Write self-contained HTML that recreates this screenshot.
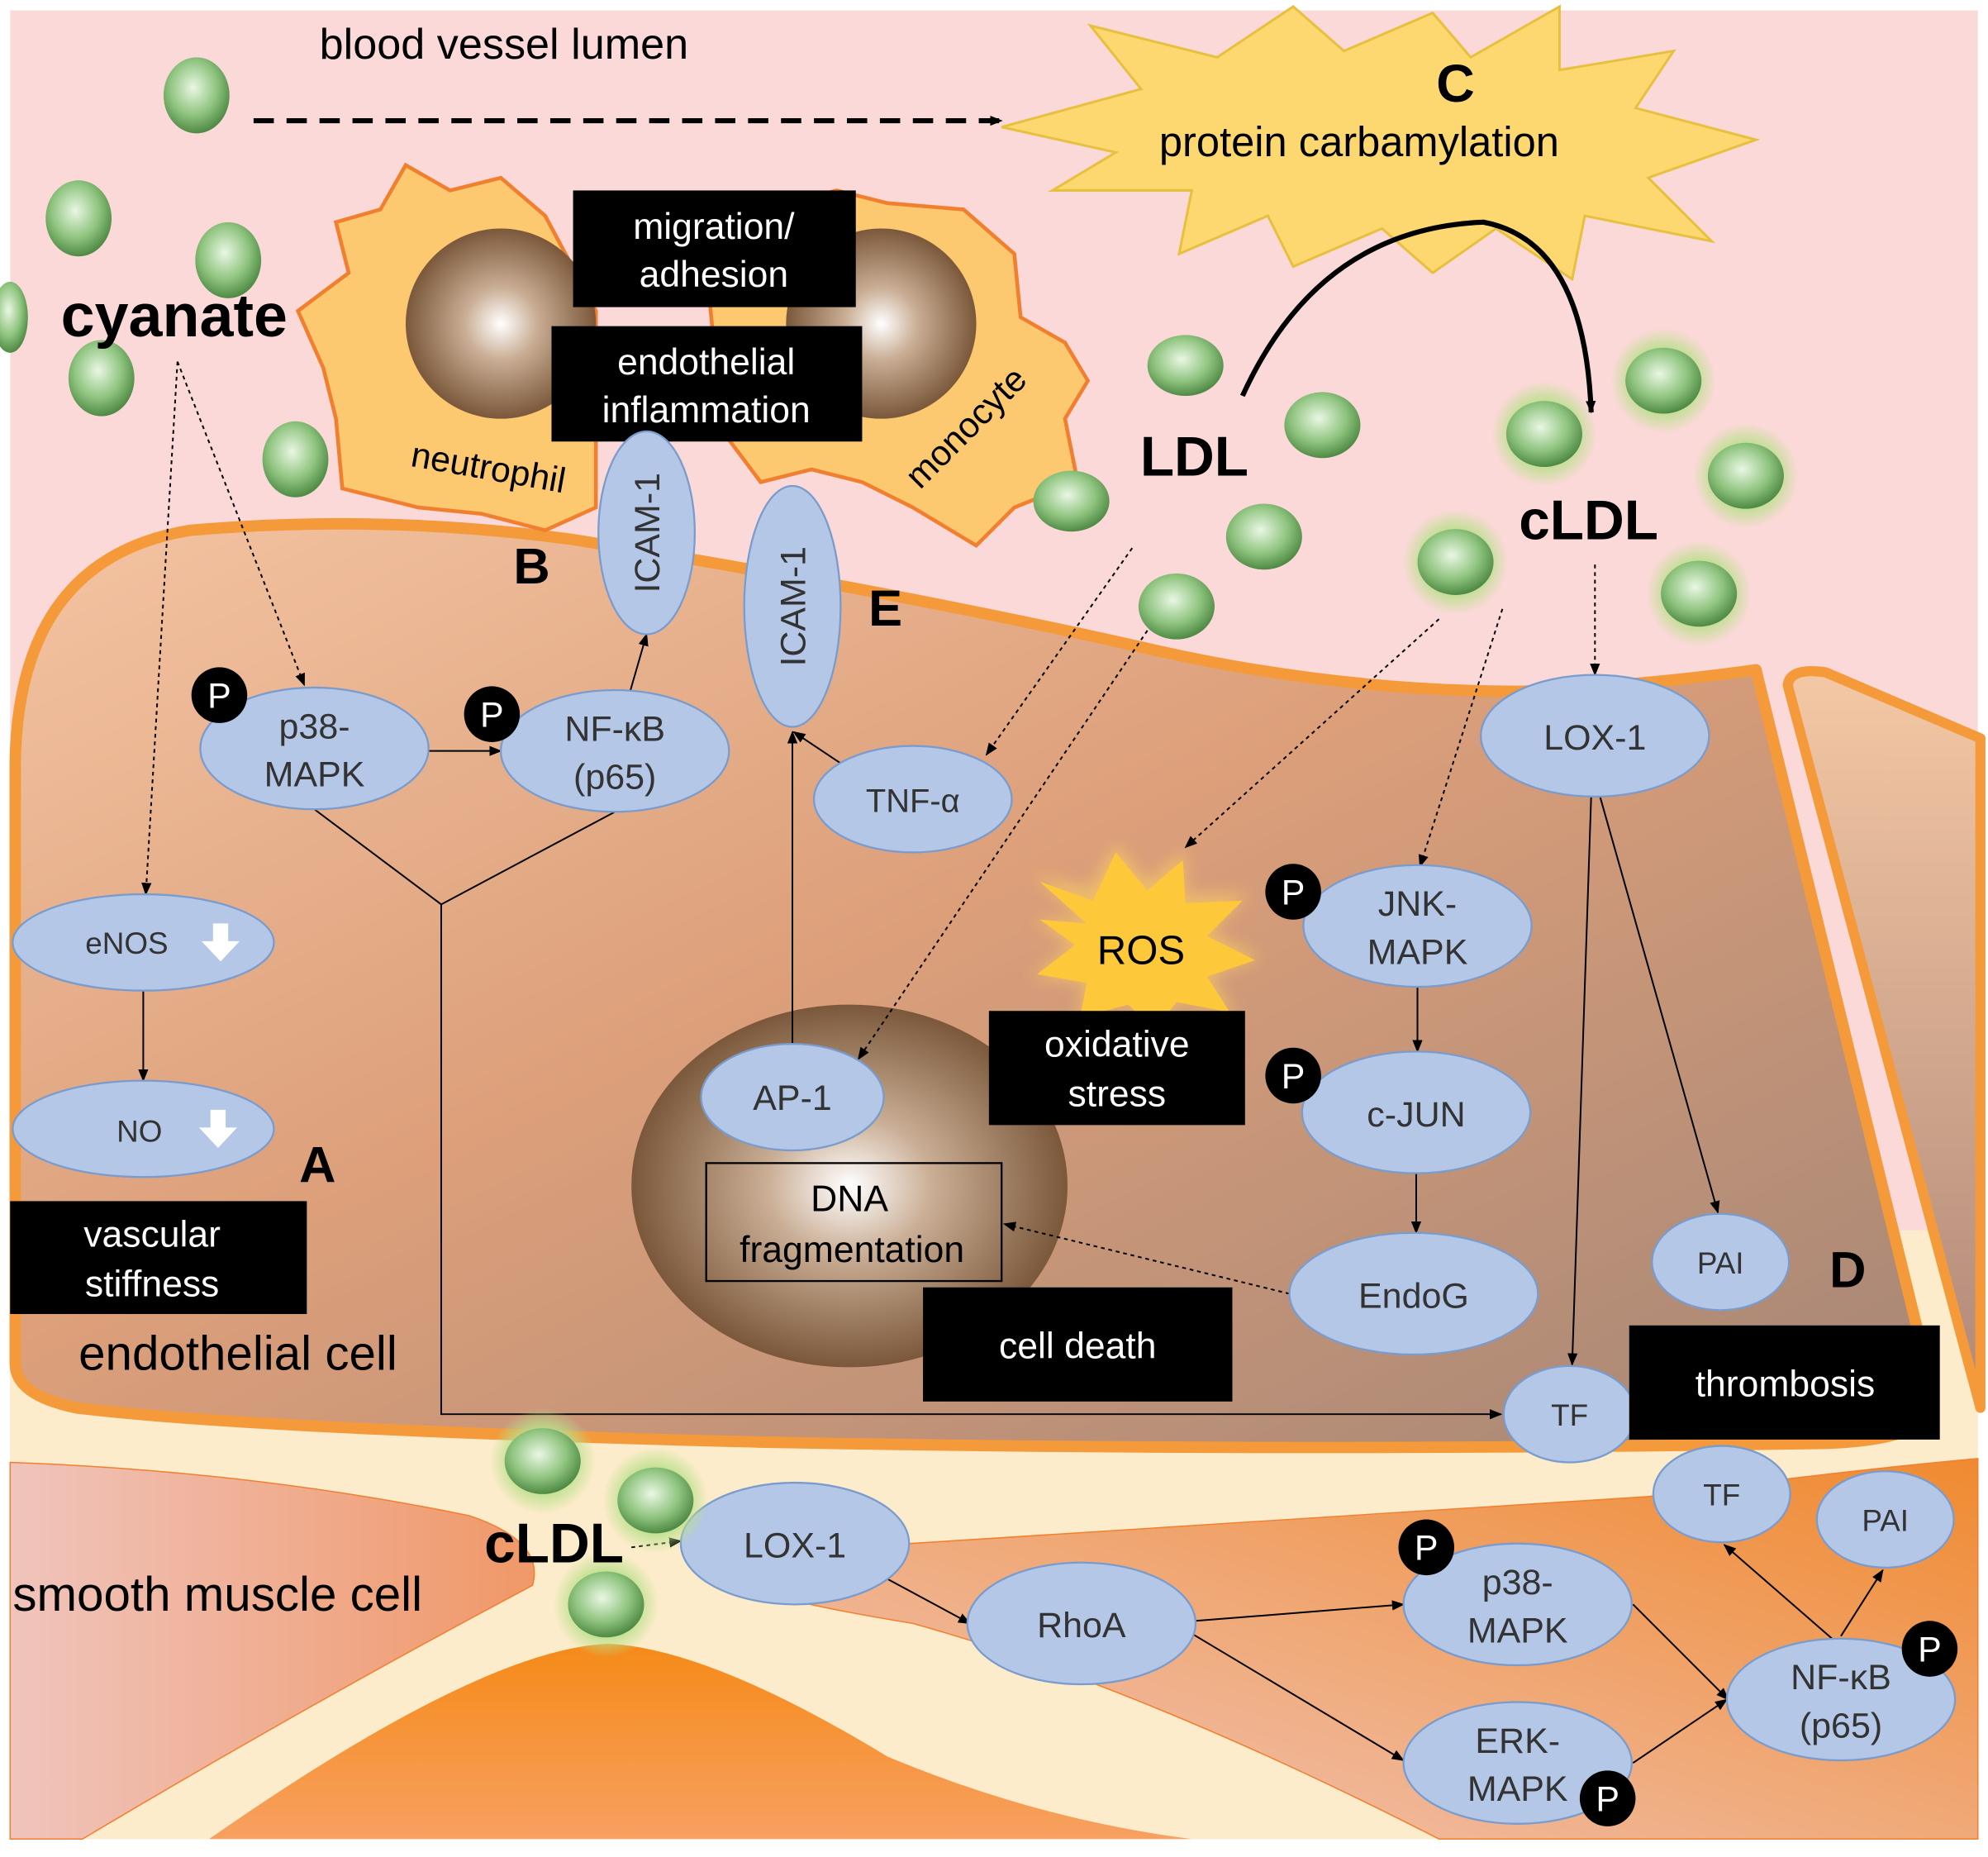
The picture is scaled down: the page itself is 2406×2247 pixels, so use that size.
<!DOCTYPE html>
<html><head><meta charset="utf-8"><style>
html,body{margin:0;padding:0;background:#fff}
svg{display:block}
text{font-family:"Liberation Sans",sans-serif}
</style></head><body>
<svg width="2406" height="2247" viewBox="0 0 1568 1464" xmlns="http://www.w3.org/2000/svg">
<defs>
<radialGradient id="sph" cx="45%" cy="40%" r="60%"><stop offset="0" stop-color="#eaf7e4"/><stop offset="0.6" stop-color="#8fc47f"/><stop offset="1" stop-color="#4f8a45"/></radialGradient>
<radialGradient id="glow" r="50%"><stop offset="0.6" stop-color="#b9e08a" stop-opacity="0.9"/><stop offset="1" stop-color="#b9e08a" stop-opacity="0"/></radialGradient>
<radialGradient id="nuc" cx="50%" cy="50%" r="55%"><stop offset="0" stop-color="#ffffff"/><stop offset="0.35" stop-color="#c9ad94"/><stop offset="1" stop-color="#6e4a2c"/></radialGradient>
<linearGradient id="cell" x1="0" y1="0" x2="1" y2="1"><stop offset="0" stop-color="#f4c4a2"/><stop offset="0.45" stop-color="#dc9f7a"/><stop offset="1" stop-color="#a48676"/></linearGradient>
<linearGradient id="rcell" x1="0" y1="0" x2="0" y2="1"><stop offset="0" stop-color="#f4c8a4"/><stop offset="1" stop-color="#b08878"/></linearGradient>
<linearGradient id="smc" x1="0" y1="0" x2="1" y2="0"><stop offset="0" stop-color="#f0c4bc"/><stop offset="1" stop-color="#f09868"/></linearGradient>
<linearGradient id="smc2" x1="0" y1="1" x2="1" y2="0"><stop offset="0" stop-color="#f0c8c0"/><stop offset="1" stop-color="#f08a30"/></linearGradient>
<linearGradient id="dome" x1="0" y1="0" x2="0" y2="1"><stop offset="0" stop-color="#f58a18"/><stop offset="1" stop-color="#f7a060"/></linearGradient>
<marker id="ar" markerWidth="10" markerHeight="10" refX="9" refY="5" orient="auto" markerUnits="userSpaceOnUse"><path d="M0,1 L10,5 L0,9 z" fill="#000"/></marker>
<filter id="blur"><feGaussianBlur stdDeviation="6"/></filter>
</defs>
<rect x="8" y="8" width="1552" height="1442" fill="#fcd9d9"/>
<path d="M8,1080 L1560,1080 L1560,1450 L8,1450 Z" fill="#fdeccb"/>
<rect x="1470" y="970" width="90" height="170" fill="#fdeccb"/>
<!-- right cell -->
<path d="M1410,540 Q1412,526 1440,530 L1562,582 L1562,1110 Z" fill="url(#rcell)" stroke="#f59a3a" stroke-width="8" stroke-linejoin="round"/>
<!-- endothelial cell -->
<path d="M12,1075 L12,600 Q15,440 150,418 Q300,405 450,425 Q700,465 900,510 Q1050,545 1200,545 Q1300,540 1385,528 L1525,1100 Q1530,1135 1440,1138 Q1000,1145 600,1137 Q200,1127 60,1110 Q12,1100 12,1075 Z" fill="url(#cell)" stroke="#f59a3a" stroke-width="9" stroke-linejoin="round"/>
<!-- smooth muscle -->
<path d="M8,1153 Q200,1160 370,1195 Q430,1215 420,1250 Q250,1340 65,1450 L8,1450 Z" fill="url(#smc)" stroke="#f08030" stroke-width="1"/>
<path d="M165,1450 Q380,1300 480,1296 Q560,1300 700,1385 Q820,1435 940,1450 Z" fill="url(#dome)"/>
<path d="M718,1217 Q1000,1200 1300,1180 Q1450,1160 1560,1150 L1560,1450 L1135,1450 Q900,1330 720,1280 Q610,1262 590,1250 Z" fill="url(#smc2)" stroke="#f08030" stroke-width="1"/>
<!-- lumen spheres -->
<g fill="url(#sph)">
<ellipse cx="155" cy="75" rx="26" ry="30"/>
<ellipse cx="62" cy="172" rx="26" ry="30"/>
<ellipse cx="180" cy="205" rx="26" ry="30"/>
<ellipse cx="80" cy="298" rx="26" ry="30"/>
<ellipse cx="233" cy="362" rx="26" ry="30"/>
<ellipse cx="8" cy="250" rx="14" ry="28"/>
</g>
<text x="252" y="46" font-size="34">blood vessel lumen</text>
<line x1="200" y1="95" x2="790" y2="95" stroke="#000" stroke-width="4" stroke-dasharray="16,10" marker-end="url(#ar)"/>
<path d="M790,100 L900,70 L860,20 L960,45 L1020,5 L1060,40 L1130,10 L1160,45 L1230,5 L1230,55 L1320,40 L1290,85 L1385,110 L1300,140 L1350,190 L1250,170 L1240,220 L1180,180 L1130,215 L1090,180 L1020,210 L1000,170 L930,200 L940,150 L830,150 L880,120 Z" fill="#fdd870" stroke="#e8c040" stroke-width="2"/>
<text x="1148" y="80" font-size="42" font-weight="bold" text-anchor="middle">C</text>
<text x="1072" y="123" font-size="33" text-anchor="middle">protein carbamylation</text>
<text x="48" y="265" font-size="48" font-weight="bold">cyanate</text>
<!-- leukocytes -->
<path d="M235,245 L275,215 L265,175 L300,165 L320,130 L355,150 L395,140 L430,170 L470,245 L470,400 L430,418 L380,405 L330,400 L270,385 L265,330 L255,290 Z" fill="#fcc870" stroke="#f08030" stroke-width="3"/>
<path d="M560,240 L580,175 L620,160 L660,150 L700,160 L760,165 L800,200 L805,250 L840,270 L858,300 L840,330 L850,380 L800,400 L770,430 L720,400 L680,380 L640,370 L600,380 L570,340 Z" fill="#fcc870" stroke="#f08030" stroke-width="3"/>
<circle cx="395" cy="255" r="75" fill="url(#nuc)"/>
<circle cx="695" cy="255" r="75" fill="url(#nuc)"/>
<text x="385" y="378" font-size="28" text-anchor="middle" transform="rotate(10 385 370)">neutrophil</text>
<text x="765" y="345" font-size="28" text-anchor="middle" transform="rotate(-45 765 340)">monocyte</text>
<rect x="452" y="150" width="223" height="92" fill="#000"/>
<text x="563" y="188" font-size="29" fill="#fff" text-anchor="middle">migration/</text>
<text x="563" y="226" font-size="29" fill="#fff" text-anchor="middle">adhesion</text>
<rect x="435" y="257" width="245" height="91" fill="#000"/>
<text x="557" y="295" font-size="29" fill="#fff" text-anchor="middle">endothelial</text>
<text x="557" y="333" font-size="29" fill="#fff" text-anchor="middle">inflammation</text>
<!-- LDL -->
<g fill="url(#sph)">
<ellipse cx="935" cy="288" rx="30" ry="24"/><ellipse cx="1043" cy="335" rx="30" ry="26"/><ellipse cx="845" cy="395" rx="30" ry="24"/><ellipse cx="997" cy="423" rx="30" ry="26"/><ellipse cx="928" cy="478" rx="30" ry="26"/>
</g>
<text x="942" y="375" font-size="44" font-weight="bold" text-anchor="middle">LDL</text>
<path d="M980,312 Q1040,180 1170,175 Q1250,190 1255,325" fill="none" stroke="#000" stroke-width="4" marker-end="url(#ar)"/>
<g>
<circle cx="1218" cy="342" r="42" fill="url(#glow)"/><circle cx="1312" cy="300" r="42" fill="url(#glow)"/><circle cx="1377" cy="375" r="42" fill="url(#glow)"/><circle cx="1148" cy="443" r="42" fill="url(#glow)"/><circle cx="1340" cy="468" r="42" fill="url(#glow)"/>
</g>
<g fill="url(#sph)">
<ellipse cx="1218" cy="342" rx="30" ry="26"/><ellipse cx="1312" cy="300" rx="30" ry="26"/><ellipse cx="1377" cy="375" rx="30" ry="26"/><ellipse cx="1148" cy="443" rx="30" ry="26"/><ellipse cx="1340" cy="468" rx="30" ry="26"/>
</g>
<text x="1253" y="425" font-size="44" font-weight="bold" text-anchor="middle">cLDL</text>
<!-- nucleus -->
<ellipse cx="670" cy="935" rx="172" ry="143" fill="url(#nuc)"/>
<!-- connectors -->
<g stroke="#000" stroke-width="1.3" fill="none">
<path d="M140,285 L115,705" stroke-dasharray="3,3" marker-end="url(#ar)"/>
<path d="M140,285 L240,540" stroke-dasharray="3,3" marker-end="url(#ar)"/>
<path d="M338,592 L395,592" marker-end="url(#ar)"/>
<path d="M497,545 L510,500" marker-end="url(#ar)"/>
<path d="M248,638 L348,713 L485,640 M348,713 L348,1115 L1184,1115" marker-end="url(#ar)"/>
<path d="M665,603 L626,577" marker-end="url(#ar)"/>
<path d="M625,823 L625,577" marker-end="url(#ar)"/>
<path d="M893,432 L778,595" stroke-dasharray="3,3" marker-end="url(#ar)"/>
<path d="M905,497 L677,835" stroke-dasharray="3,3" marker-end="url(#ar)"/>
<path d="M1135,488 L935,668" stroke-dasharray="3,3" marker-end="url(#ar)"/>
<path d="M1185,480 L1120,683" stroke-dasharray="3,3" marker-end="url(#ar)"/>
<path d="M1258,445 L1258,532" stroke-dasharray="3,3" marker-end="url(#ar)"/>
<path d="M1255,628 L1240,1076" marker-end="url(#ar)"/>
<path d="M1262,628 L1355,956" marker-end="url(#ar)"/>
<path d="M113,781 L113,852" marker-end="url(#ar)"/>
<path d="M1118,778 L1118,829" marker-end="url(#ar)"/>
<path d="M1117,925 L1117,972" marker-end="url(#ar)"/>
<path d="M1017,1020 L792,965" stroke-dasharray="3,3" marker-end="url(#ar)"/>
<path d="M498,1220 L537,1215" stroke-dasharray="3,3" marker-end="url(#ar)"/>
<path d="M700,1245 L765,1280" marker-end="url(#ar)"/>
<path d="M943,1278 L1107,1265" marker-end="url(#ar)"/>
<path d="M935,1285 L1107,1388" marker-end="url(#ar)"/>
<path d="M1288,1265 L1363,1340" marker-end="url(#ar)"/>
<path d="M1288,1390 L1362,1340" marker-end="url(#ar)"/>
<path d="M1445,1292 L1360,1218" marker-end="url(#ar)"/>
<path d="M1452,1290 L1485,1238" marker-end="url(#ar)"/>
</g>
<!-- ellipses -->
<g fill="#b4c7e7" stroke="#7a9ccc" stroke-width="1.5">
<ellipse cx="510" cy="420" rx="38" ry="80"/>
<ellipse cx="625" cy="478" rx="38" ry="95"/>
<ellipse cx="248" cy="590" rx="90" ry="48"/>
<ellipse cx="485" cy="592" rx="90" ry="48"/>
<ellipse cx="720" cy="630" rx="78" ry="42"/>
<ellipse cx="1258" cy="580" rx="90" ry="48"/>
<ellipse cx="113" cy="743" rx="103" ry="38"/>
<ellipse cx="113" cy="890" rx="103" ry="38"/>
<ellipse cx="1118" cy="730" rx="90" ry="48"/>
<ellipse cx="1117" cy="877" rx="90" ry="48"/>
<ellipse cx="1115" cy="1020" rx="98" ry="48"/>
<ellipse cx="625" cy="865" rx="72" ry="42"/>
<ellipse cx="1357" cy="995" rx="54" ry="38"/>
<ellipse cx="1238" cy="1115" rx="52" ry="38"/>
<ellipse cx="1358" cy="1178" rx="54" ry="38"/>
<ellipse cx="1487" cy="1198" rx="54" ry="38"/>
<ellipse cx="627" cy="1217" rx="90" ry="48"/>
<ellipse cx="853" cy="1280" rx="90" ry="48"/>
<ellipse cx="1197" cy="1265" rx="90" ry="48"/>
<ellipse cx="1197" cy="1390" rx="90" ry="48"/>
<ellipse cx="1452" cy="1340" rx="90" ry="48"/>
</g>
<g font-size="28" fill="#333" text-anchor="middle">
<text x="510" y="420" transform="rotate(-90 510 420)" dy="10">ICAM-1</text>
<text x="625" y="478" transform="rotate(-90 625 478)" dy="10">ICAM-1</text>
<text x="248" y="582">p38-</text><text x="248" y="620">MAPK</text>
<text x="485" y="584">NF-κB</text><text x="485" y="622">(p65)</text>
<text x="720" y="640" font-size="26">TNF-α</text>
<text x="1258" y="591">LOX-1</text>
<text x="100" y="752" font-size="24">eNOS</text>
<text x="110" y="900" font-size="24">NO</text>
<text x="1118" y="722">JNK-</text><text x="1118" y="760">MAPK</text>
<text x="1117" y="888">c-JUN</text>
<text x="1115" y="1031">EndoG</text>
<text x="625" y="875">AP-1</text>
<text x="1357" y="1004" font-size="24">PAI</text>
<text x="1238" y="1124" font-size="24">TF</text>
<text x="1358" y="1187" font-size="24">TF</text>
<text x="1487" y="1207" font-size="24">PAI</text>
<text x="627" y="1228">LOX-1</text>
<text x="853" y="1291">RhoA</text>
<text x="1197" y="1257">p38-</text><text x="1197" y="1295">MAPK</text>
<text x="1197" y="1382">ERK-</text><text x="1197" y="1420">MAPK</text>
<text x="1452" y="1332">NF-κB</text><text x="1452" y="1370">(p65)</text>
</g>
<path d="M168,728 h12 v14 h9 l-15,16 l-15,-16 h9 z" fill="#fff"/>
<path d="M166,875 h12 v14 h9 l-15,16 l-15,-16 h9 z" fill="#fff"/>
<g fill="#000">
<circle cx="173" cy="548" r="22"/><circle cx="388" cy="563" r="22"/><circle cx="1020" cy="703" r="22"/><circle cx="1020" cy="848" r="22"/><circle cx="1125" cy="1220" r="22"/><circle cx="1268" cy="1418" r="22"/><circle cx="1522" cy="1300" r="22"/>
</g>
<g fill="#fff" font-size="28" text-anchor="middle">
<text x="173" y="558">P</text><text x="388" y="573">P</text><text x="1020" y="713">P</text><text x="1020" y="858">P</text><text x="1125" y="1230">P</text><text x="1268" y="1428">P</text><text x="1522" y="1310">P</text>
</g>
<!-- ROS -->
<path d="M815,690 L860,700 L880,665 L905,695 L935,670 L935,705 L985,705 L955,735 L995,755 L955,770 L975,800 L930,790 L910,815 L890,790 L850,805 L855,775 L815,770 L845,745 L815,725 L855,725 Z" fill="#fdd060" opacity="0.6" filter="url(#blur)"/>
<path d="M820,695 L862,710 L880,672 L905,702 L933,678 L935,712 L980,710 L952,738 L990,757 L952,770 L970,798 L928,790 L910,812 L890,792 L852,802 L857,775 L818,768 L848,745 L820,725 L857,728 Z" fill="#fdc93a"/>
<text x="900" y="760" font-size="32" text-anchor="middle">ROS</text>
<rect x="8" y="947" width="234" height="89" fill="#000"/>
<text x="120" y="983" font-size="29" fill="#fff" text-anchor="middle">vascular</text>
<text x="120" y="1022" font-size="29" fill="#fff" text-anchor="middle">stiffness</text>
<rect x="780" y="797" width="202" height="90" fill="#000"/>
<text x="881" y="833" font-size="29" fill="#fff" text-anchor="middle">oxidative</text>
<text x="881" y="872" font-size="29" fill="#fff" text-anchor="middle">stress</text>
<rect x="557" y="917" width="233" height="93" fill="none" stroke="#000" stroke-width="1.5"/>
<text x="670" y="955" font-size="29" text-anchor="middle">DNA</text>
<text x="672" y="995" font-size="29" text-anchor="middle">fragmentation</text>
<rect x="728" y="1015" width="244" height="90" fill="#000"/>
<text x="850" y="1071" font-size="29" fill="#fff" text-anchor="middle">cell death</text>
<rect x="1285" y="1045" width="245" height="90" fill="#000"/>
<text x="1408" y="1101" font-size="29" fill="#fff" text-anchor="middle">thrombosis</text>
<g font-size="40" font-weight="bold">
<text x="405" y="460">B</text><text x="685" y="493">E</text><text x="236" y="932">A</text><text x="1443" y="1015">D</text>
</g>
<text x="62" y="1080" font-size="38">endothelial cell</text>
<text x="10" y="1270" font-size="38">smooth muscle cell</text>
<circle cx="428" cy="1152" r="42" fill="url(#glow)"/><circle cx="517" cy="1183" r="42" fill="url(#glow)"/><circle cx="478" cy="1265" r="42" fill="url(#glow)"/>
<g fill="url(#sph)"><ellipse cx="428" cy="1152" rx="30" ry="26"/><ellipse cx="517" cy="1183" rx="30" ry="26"/><ellipse cx="478" cy="1265" rx="30" ry="26"/></g>
<text x="437" y="1232" font-size="44" font-weight="bold" text-anchor="middle">cLDL</text>
</svg>
</body></html>
